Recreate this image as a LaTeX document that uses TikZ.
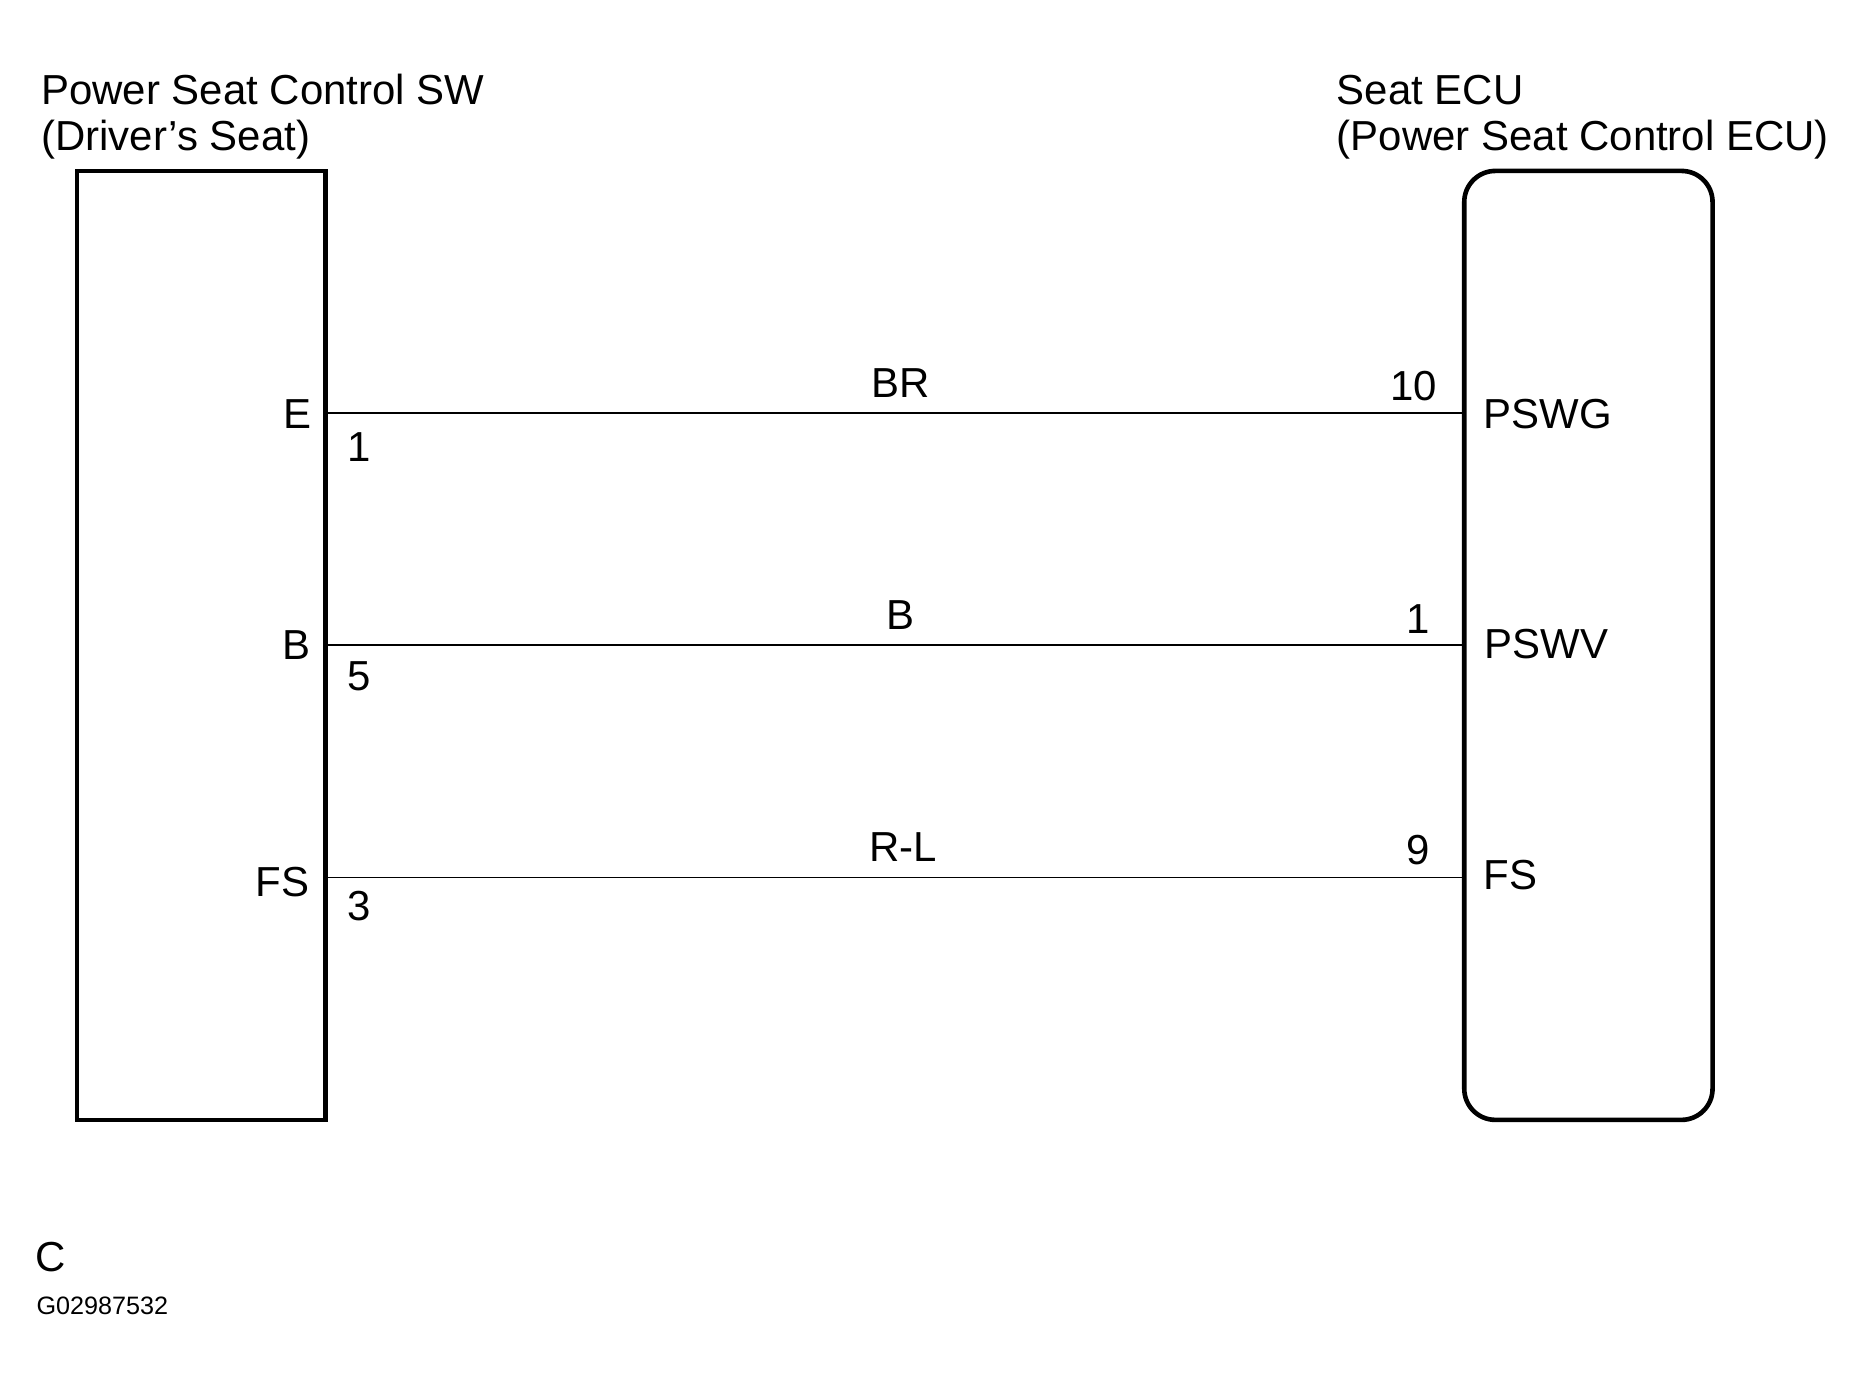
\documentclass[tikz,border=0pt]{standalone}
\usepackage{fontspec}
\setmainfont{Liberation Sans}
\usetikzlibrary{positioning}
\tikzset{
  swbox/.style={draw, line width=1.1pt, rectangle, inner sep=0pt,
      minimum width=2.08cm, minimum height=7.95cm},
  ecubox/.style={swbox, rounded corners=0.26cm},
  wire/.style={line width=0.35pt},
  title/.style={anchor=base west, inner sep=0pt},
  wirelbl/.style={anchor=base, inner sep=0pt},
  pinname/.style={anchor=base east, inner sep=0pt},
  pinno/.style={anchor=base west, inner sep=0pt},
  ecupin/.style={anchor=base west, inner sep=0pt},
  ecuno/.style={anchor=base east, inner sep=0pt}
}

\begin{document}
\begin{tikzpicture}[x=0.01cm, y=-0.01cm, font=\fontsize{10}{12}\selectfont]
\useasboundingbox (0,0) rectangle (1560,1166);

% the two units
\node[swbox] (sw) at (168.75,541) {};
\node[ecubox] (ecu) at (1331.5,541) {};

\node[title] (swname) at (34,87.5) {Power Seat Control SW};
\node[title] (swnote) at (34,126.3) {(Driver’s Seat)};
\node[title] (ecuname) at (1120,87.5) {Seat ECU};
\node[title] (ecunote) at (1120,126.3) {(Power Seat Control ECU)};

% wire ends
\coordinate (swE) at (sw.east |- 0,346);
\coordinate (swB) at (sw.east |- 0,540.5);
\coordinate (swFS) at (sw.east |- 0,735.5);
\coordinate (ecuG) at (ecu.west |- 0,346);
\coordinate (ecuV) at (ecu.west |- 0,540.5);
\coordinate (ecuFS) at (ecu.west |- 0,735.5);

\draw[wire] (swE) -- (ecuG);
\draw[wire] (swB) -- (ecuV);
\draw[wire] (swFS) -- (ecuFS);

% wire colours
\node[wirelbl] (cBR) at (755,333) {BR};
\node[wirelbl] (cB) at (755,527.5) {B};
\node[wirelbl] (cRL) at (757,722.5) {R-L};

% switch side
\node[pinname] (nE) at (262,359) {E};
\node[pinname] (nB) at (261,552.5) {B};
\node[pinname] (nFS) at (260,751.5) {FS};
\node[pinno] (pE) at (291,387) {1};
\node[pinno] (pB) at (291,578.5) {5};
\node[pinno] (pFS) at (291,771.5) {3};

% ECU side
\node[ecuno] (qG) at (1205,335.5) {10};
\node[ecuno] (qV) at (1199,531) {1};
\node[ecuno] (qFS) at (1199,724.5) {9};
\node[ecupin] (mG) at (1243,359) {PSWG};
\node[ecupin] (mV) at (1244,552) {PSWV};
\node[ecupin] (mFS) at (1243,746) {FS};

\node[title] (sect) at (29,1066) {C};
\node[title, font=\fontsize{6}{7}\selectfont] (figno) at (30,1102) {G02987532};
\end{tikzpicture}
\end{document}
